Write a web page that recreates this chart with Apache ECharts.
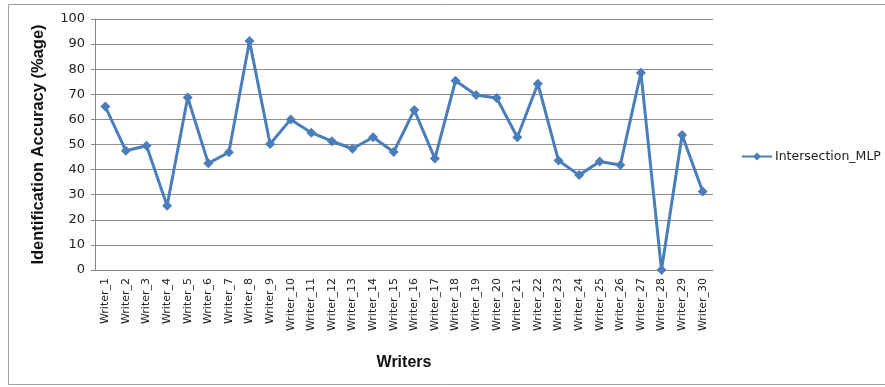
<!DOCTYPE html>
<html><head><meta charset="utf-8">
<script src="https://cdn.jsdelivr.net/npm/echarts@6/dist/echarts.min.js"></script>
<style>html,body{margin:0;padding:0;background:#fff}#c{width:885px;height:387px}</style>
</head><body><div id="c"></div>
<script>
const categories = ["Writer_1","Writer_2","Writer_3","Writer_4","Writer_5","Writer_6","Writer_7","Writer_8","Writer_9","Writer_10","Writer_11","Writer_12","Writer_13","Writer_14","Writer_15","Writer_16","Writer_17","Writer_18","Writer_19","Writer_20","Writer_21","Writer_22","Writer_23","Writer_24","Writer_25","Writer_26","Writer_27","Writer_28","Writer_29","Writer_30"];
const intersectionMLP = [65.1,47.5,49.5,25.6,68.7,42.5,46.9,91.2,50.2,60.0,54.7,51.3,48.3,52.9,47.0,63.7,44.4,75.4,69.7,68.5,52.9,74.2,43.6,37.8,43.2,41.8,78.6,0,53.8,31.3];
const seriesName = "Intersection_MLP";

const chart = echarts.init(document.getElementById('c'), null, {renderer:'canvas'});
chart.setOption({
  animation:false,
  backgroundColor:'#fff',
  graphic:[{type:'rect',shape:{x:8.5,y:4.5,width:890,height:380},style:{fill:'none',stroke:'#a0a0a0',lineWidth:1},silent:true}],
  grid:{left:95,right:172,top:19,bottom:117,containLabel:false},
  legend:{data:[seriesName],orient:'vertical',left:736,top:145,itemWidth:30,itemHeight:10,itemGap:4,
    textStyle:{fontFamily:'"DejaVu Sans", sans-serif',fontSize:12.5,color:'#222',padding:[0,0,0,-2]}},
  xAxis:{type:'category',data:categories,boundaryGap:true,
    name:'Writers',nameLocation:'middle',nameGap:85,
    nameTextStyle:{fontFamily:'"Liberation Sans", Arial, sans-serif',fontSize:16,fontWeight:'bold',color:'#111'},
    axisLine:{lineStyle:{color:'#868686'}},axisTick:{show:false},
    axisLabel:{rotate:90,interval:0,fontFamily:'"DejaVu Sans", sans-serif',fontSize:11,color:'#222',margin:8}},
  yAxis:{type:'value',min:0,max:100,interval:10,
    name:'Identification Accuracy (%age)',nameLocation:'middle',nameGap:48,
    nameTextStyle:{fontFamily:'"Liberation Sans", Arial, sans-serif',fontSize:16.5,fontWeight:'bold',color:'#111'},
    axisLine:{show:true,lineStyle:{color:'#868686'}},
    axisTick:{show:true,length:4,lineStyle:{color:'#868686'}},
    axisLabel:{fontFamily:'"DejaVu Sans", sans-serif',fontSize:13,color:'#222',margin:10},
    splitLine:{lineStyle:{color:'#8c8c8c',width:1}}},
  series:[{name:seriesName,type:'line',data:intersectionMLP,
    symbol:'diamond',symbolSize:10,
    lineStyle:{color:'#4a7ebb',width:3},
    itemStyle:{color:'#4a7ebb'}}]
});
</script></body></html>
